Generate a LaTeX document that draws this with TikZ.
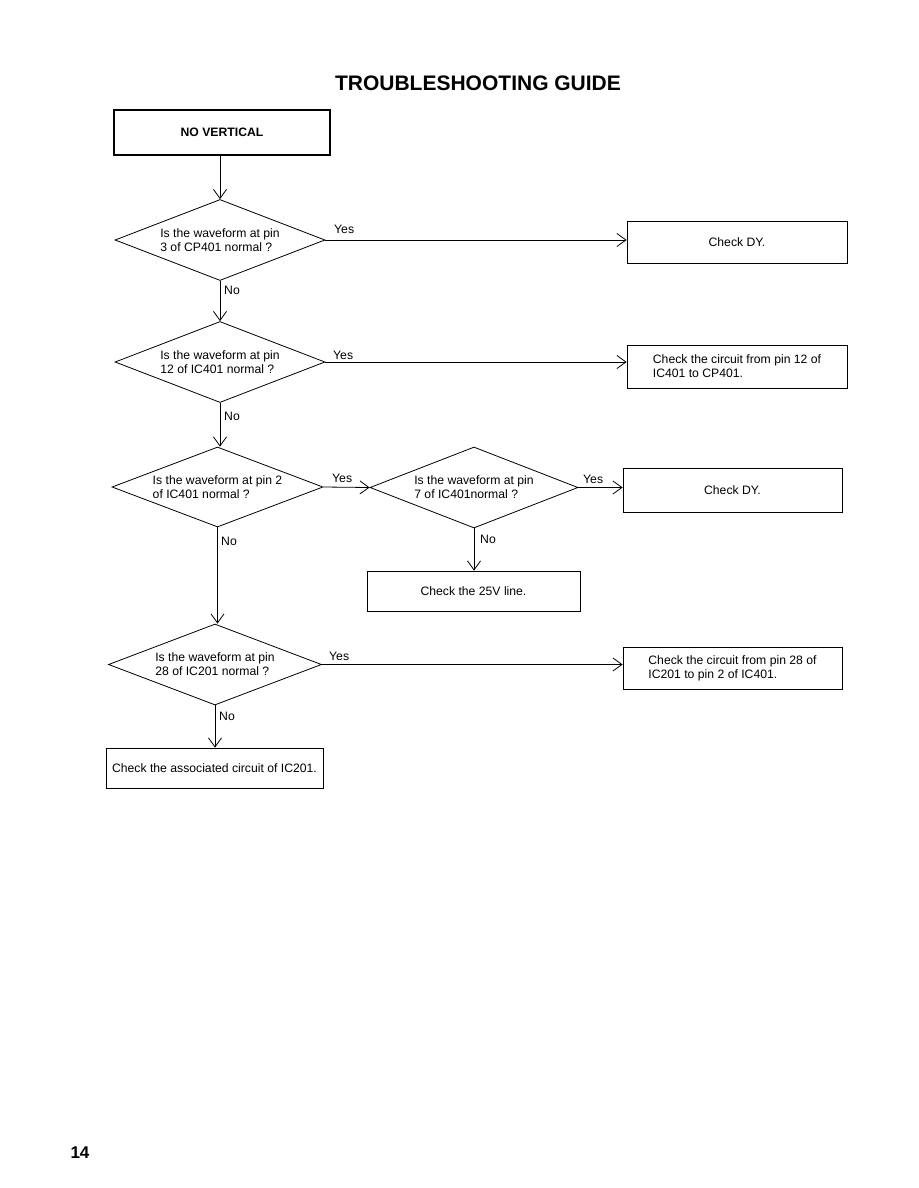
\documentclass[tikz,border=0pt]{standalone}
\usepackage{fontspec}
\setmainfont{Liberation Sans}
\usetikzlibrary{shapes.geometric,arrows.meta}
\begin{document}
\begin{tikzpicture}[x=1pt,y=-1pt,
  txt/.style={font=\fontsize{12.2}{14}\selectfont},
  dec/.style={txt, diamond, draw, line width=0.8pt, aspect=2.6, minimum width=210pt, minimum height=81pt, inner sep=0pt, align=left},
  box/.style={txt, rectangle, draw, line width=0.8pt, inner sep=0pt, align=left},
  lab/.style={txt, anchor=base west, inner sep=0pt},
  arr/.style={line width=0.8pt, -{Straight Barb[length=9pt,width=13pt]}}
]
\useasboundingbox (0,0) rectangle (918,1188);
\fill[white] (0,0) rectangle (918,1188);

\node[font=\fontsize{21}{24}\bfseries\selectfont] (title) at (478,83) {TROUBLESHOOTING GUIDE};
\node[font=\fontsize{17}{20}\bfseries\selectfont] (page) at (80,1153) {14};

\node[draw, line width=1.8pt, minimum width=216pt, minimum height=45pt, font=\fontsize{12.2}{14}\bfseries\selectfont] (start) at (222,132.5) {NO VERTICAL};

\node[dec] (d1) at (220,240) {Is the waveform at pin\\3 of CP401 normal ?};
\node[dec] (d2) at (220,362) {Is the waveform at pin\\12 of IC401 normal ?};
\node[dec, minimum width=211pt, minimum height=80pt] (d3) at (217.5,487) {Is the waveform at pin 2\\of IC401 normal ?};
\node[dec, minimum width=208pt] (d4) at (474,487.5) {Is the waveform at pin\\7 of IC401normal ?};
\node[dec, minimum width=213pt] (d5) at (215,664.5) {Is the waveform at pin\\28 of IC201 normal ?};

\node[box, minimum width=220pt, minimum height=42pt] (b1) at (737,242) {Check DY.};
\node[box, minimum width=220pt, minimum height=43pt] (b2) at (737,366.5) {Check the circuit from pin 12 of\\IC401 to CP401.};
\node[box, minimum width=219pt, minimum height=44pt] (b3) at (732.5,490) {Check DY.};
\node[box, minimum width=213pt, minimum height=40pt] (b4) at (473.5,591) {Check the 25V line.};
\node[box, minimum width=219pt, minimum height=42pt] (b5) at (732.5,668) {Check the circuit from pin 28 of\\IC201 to pin 2 of IC401.};
\node[box, minimum width=217pt, minimum height=40pt] (b6) at (214.5,768) {Check the associated circuit of IC201.};

\draw[arr] (start.south -| d1.north) -- (d1.north);
\draw[arr] (d1.south) -- (d2.north);
\draw[arr] (d2.south) -- (d2.south |- d3.north);
\draw[arr] (d3.south) -- (d3.south |- d5.north);
\draw[arr] (d5.south) -- (d5.south |- b6.north);
\draw[arr] (d4.south) -- (d4.south |- b4.north);

\draw[arr] (d1.east) -- (d1.east -| b1.west);
\draw[arr] (d2.east) -- (d2.east -| b2.west);
\draw[arr] (d3.east) -- (d4.west);
\draw[arr] (d4.east) -- (d4.east -| b3.west);
\draw[arr] (d5.east) -- (d5.east -| b5.west);

\node[lab] (y1) at (334,233) {Yes};
\node[lab] (y2) at (333,359) {Yes};
\node[lab] (y3) at (332,482) {Yes};
\node[lab] (y4) at (583,483) {Yes};
\node[lab] (y5) at (329,660) {Yes};
\node[lab] (n1) at (224,294) {No};
\node[lab] (n2) at (224,420) {No};
\node[lab] (n3) at (221,545) {No};
\node[lab] (n4) at (480,543) {No};
\node[lab] (n5) at (219,720) {No};
\end{tikzpicture}
\end{document}
